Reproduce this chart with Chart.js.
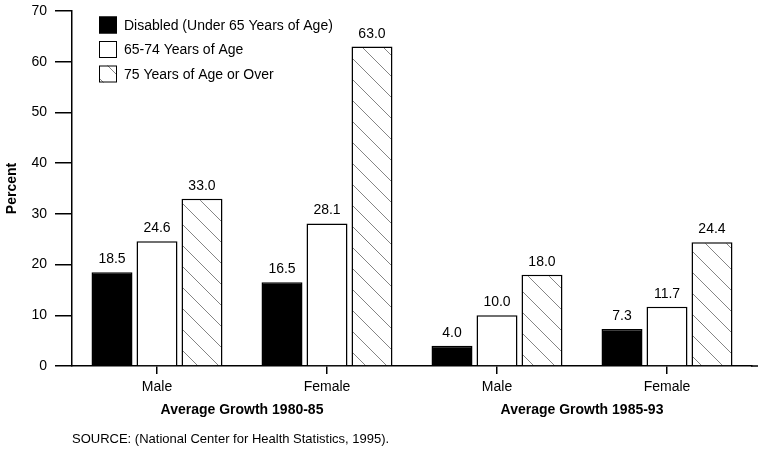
<!DOCTYPE html>
<html>
<head>
<meta charset="utf-8">
<script src="https://cdn.jsdelivr.net/npm/chart.js@4.4.1/dist/chart.umd.min.js"></script>
<style>
  html, body { margin: 0; padding: 0; background: #fff; }
  #wrap { width: 758px; height: 449px; position: relative; }
</style>
</head>
<body>
<div id="wrap"><canvas id="c" width="758" height="449"></canvas></div>
<script>
const categories = ['Male', 'Female', 'Male', 'Female'];
const groupLabels = ['Average Growth 1980-85', 'Average Growth 1985-93'];
const seriesNames = ['Disabled (Under 65 Years of Age)', '65-74 Years of Age', '75 Years of Age or Over'];
const disabled = [18.5, 16.5, 4.0, 7.3];
const age6574 = [24.6, 28.1, 10.0, 11.7];
const age75plus = [33.0, 63.0, 18.0, 24.4];
const yTicks = [0, 10, 20, 30, 40, 50, 60, 70];
const sourceText = 'SOURCE: (National Center for Health Statistics, 1995).';

const FONT = '"Liberation Sans", Arial, Helvetica, sans-serif';

function makeHatch() {
  const s = 21;
  const pc = document.createElement('canvas');
  pc.width = s; pc.height = s;
  const g = pc.getContext('2d');
  g.fillStyle = '#fff';
  g.fillRect(0, 0, s, s);
  g.strokeStyle = '#666';
  g.lineWidth = 0.8;
  g.beginPath();
  g.moveTo(-2, -2); g.lineTo(s + 2, s + 2);
  g.stroke();
  return document.getElementById('c').getContext('2d').createPattern(pc, 'repeat');
}
const hatch = makeHatch();

const fills = ['#000', '#fff', hatch];

const valueLabels = {
  id: 'valueLabels',
  afterDatasetsDraw(chart) {
    const ctx = chart.ctx;
    ctx.save();
    ctx.font = '14px ' + FONT;
    ctx.fillStyle = '#000';
    ctx.textAlign = 'center';
    ctx.textBaseline = 'alphabetic';
    chart.data.datasets.forEach((ds, i) => {
      chart.getDatasetMeta(i).data.forEach((bar, j) => {
        ctx.fillText(ds.data[j].toFixed(1), bar.x, bar.y - 9);
      });
    });
    ctx.restore();
  }
};

const extras = {
  id: 'extras',
  afterDraw(chart) {
    const ctx = chart.ctx;
    const xs = chart.scales.x;
    const area = chart.chartArea;
    ctx.save();
    ctx.strokeStyle = '#000';
    ctx.lineWidth = 1.5;
    ctx.beginPath();
    ctx.moveTo(area.right - 1, area.bottom);
    ctx.lineTo(chart.width, area.bottom);
    ctx.stroke();
    ctx.font = 'bold 14px ' + FONT;
    ctx.fillStyle = '#000';
    ctx.textAlign = 'center';
    ctx.textBaseline = 'middle';
    groupLabels.forEach((lab, g) => {
      const x = (xs.getPixelForValue(g * 2) + xs.getPixelForValue(g * 2 + 1)) / 2;
      ctx.fillText(lab, x, 410);
    });
    ctx.font = '13px ' + FONT;
    ctx.textAlign = 'left';
    ctx.fillText(sourceText, 72, 439);
    const rows = [25, 49.5, 74];
    ctx.font = '14px ' + FONT;
    chart.data.datasets.forEach((ds, i) => {
      const y = rows[i];
      ctx.fillStyle = ds.backgroundColor;
      ctx.fillRect(99, y - 8.5, 18, 17);
      ctx.strokeStyle = '#000';
      ctx.lineWidth = 1;
      ctx.strokeRect(99.5, y - 8, 17, 16);
      ctx.fillStyle = '#000';
      ctx.textAlign = 'left';
      ctx.textBaseline = 'middle';
      ctx.fillText(ds.label, 124, y + 1);
    });
    ctx.restore();
  }
};

new Chart(document.getElementById('c'), {
  type: 'bar',
  data: {
    labels: categories,
    datasets: [disabled, age6574, age75plus].map((d, i) => ({
      label: seriesNames[i],
      data: d,
      backgroundColor: fills[i],
      borderColor: '#000',
      borderWidth: 1.5,
      barPercentage: 0.911,
      categoryPercentage: 0.794
    }))
  },
  options: {
    responsive: false,
    animation: false,
    devicePixelRatio: 1,
    layout: { padding: { top: 11, left: 0, right: 6, bottom: 0 } },
    plugins: { legend: { display: false }, tooltip: { enabled: false } },
    scales: {
      y: {
        min: 0, max: 70,
        afterBuildTicks: s => { s.ticks = yTicks.map(v => ({ value: v })); },
        afterFit: s => { s.width = 72; s.paddingTop = 0; s.paddingBottom = 0; },
        ticks: { font: { family: FONT, size: 14 }, color: '#000', padding: 8 },
        grid: { drawOnChartArea: false, drawTicks: true, tickLength: 17, color: '#000', lineWidth: 1.5 },
        border: { display: true, color: '#000', width: 1.5 },
        title: { display: true, text: 'Percent', color: '#000', font: { family: FONT, size: 14, weight: 'bold' }, padding: { top: 4, bottom: 4 } }
      },
      x: {
        afterFit: s => { s.height = 83; s.paddingLeft = 0; s.paddingRight = 0; },
        ticks: { font: { family: FONT, size: 14 }, color: '#000', padding: 5 },
        grid: { drawOnChartArea: false, drawTicks: true, tickLength: 8, color: '#000', lineWidth: 1.5, offset: false },
        border: { display: true, color: '#000', width: 1.5 }
      }
    }
  },
  plugins: [valueLabels, extras]
});
</script>
</body>
</html>
